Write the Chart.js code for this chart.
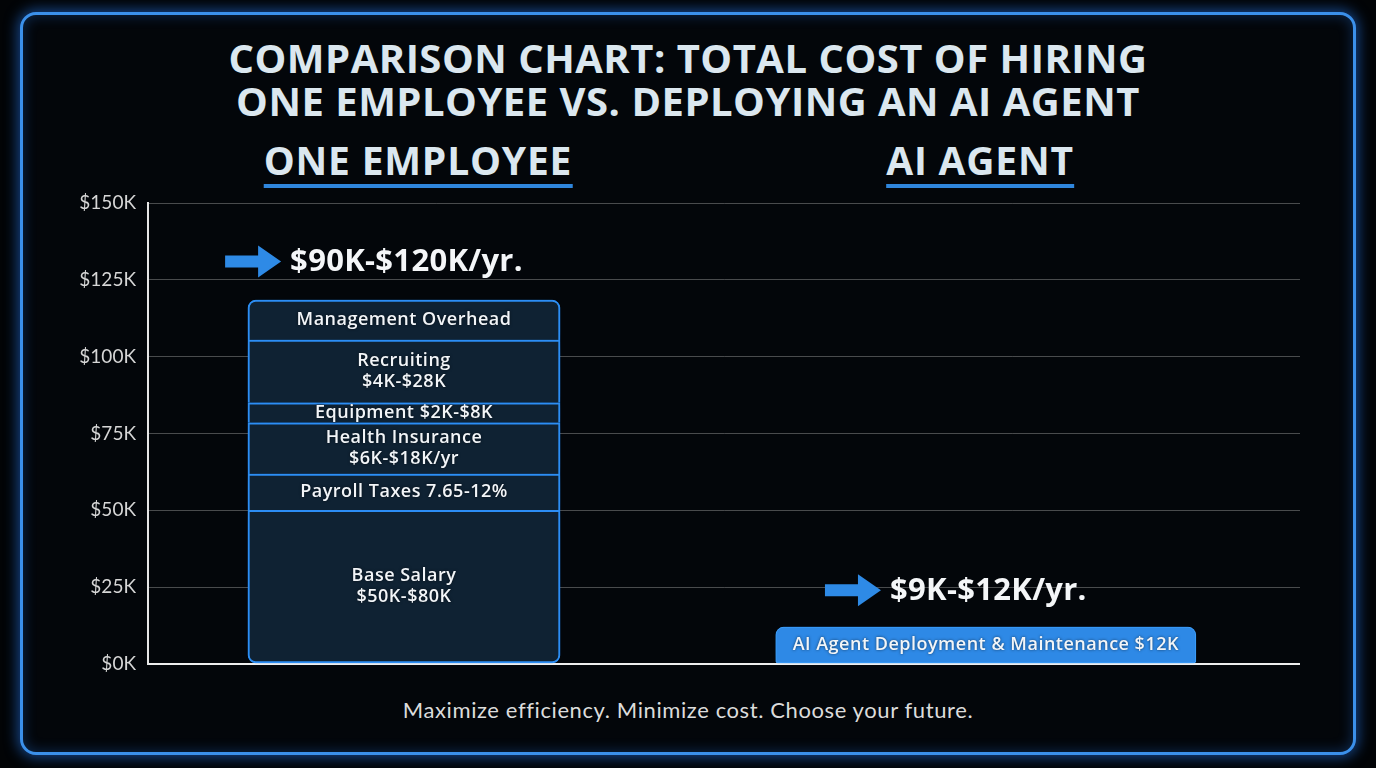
<!DOCTYPE html>
<html><head><meta charset="utf-8">
<script src="https://cdn.jsdelivr.net/npm/chart.js@4.4.0/dist/chart.umd.min.js"></script>
<style>
html,body{margin:0;padding:0;background:#020406;width:1376px;height:768px;overflow:hidden;}
#frame{position:absolute;left:20px;top:12px;width:1330px;height:737px;border:3px solid #3b90ea;border-radius:16px;background:#03060a;box-shadow:0 0 14px 2px rgba(40,130,255,0.55), inset 0 0 14px rgba(40,130,255,0.30);}
.title{position:absolute;left:0;width:1376px;top:36px;text-align:center;font-family:"Open Sans",sans-serif;font-weight:700;font-size:40px;line-height:43px;color:#dbe7ef;letter-spacing:0.5px;}
.hdr{position:absolute;top:138px;transform:translateX(-50%);font-family:"Open Sans",sans-serif;font-weight:700;font-size:39px;line-height:44px;color:#dbe7ef;border-bottom:4px solid #2f86dd;padding-bottom:2px;white-space:nowrap;letter-spacing:0.8px;}
.foot{position:absolute;left:0;width:1376px;top:696px;text-align:center;font-family:"Lato",sans-serif;font-weight:400;font-size:22px;color:#dcdcdc;letter-spacing:0.6px;}
canvas{position:absolute;left:0;top:0;}
</style></head>
<body>
<div id="frame"></div>
<div class="title">COMPARISON CHART: TOTAL COST OF HIRING<br>ONE EMPLOYEE VS. DEPLOYING AN AI AGENT</div>
<div class="hdr" id="h0" style="left:418px">ONE EMPLOYEE</div>
<div class="hdr" id="h1" style="left:980px">AI AGENT</div>
<div class="foot">Maximize efficiency. Minimize cost. Choose your future.</div>
<canvas id="c" width="1376" height="768"></canvas>
<script>
const categories = ['One Employee', 'AI Agent'];
const employeeSegments = ['Base Salary','Payroll Taxes','Health Insurance','Equipment','Recruiting','Management Overhead'];
const employeeValues = [50, 11.8, 16.7, 6.5, 20.4, 13.0];
const employeeLabels = [['Base Salary','$50K-$80K'],['Payroll Taxes 7.65-12%'],['Health Insurance','$6K-$18K/yr'],['Equipment $2K-$8K'],['Recruiting','$4K-$28K'],['Management Overhead']];
const aiSegments = ['AI Agent Deployment & Maintenance'];
const aiValues = [12];
const aiLabels = [['AI Agent Deployment & Maintenance $12K']];
const totalLabels = ['$90K-$120K/yr.', '$9K-$12K/yr.'];
const totalMarkerValues = [131, 24];
const yTicks = [0,25,50,75,100,125,150];
const yTickLabels = ['$0K','$25K','$50K','$75K','$100K','$125K','$150K'];

const datasets = [];
employeeValues.forEach((v,i)=>{
  const last = i===employeeValues.length-1, first = i===0;
  datasets.push({
    label: employeeSegments[i],
    data: [{x:0, y:v}],
    segLabel: employeeLabels[i],
    backgroundColor: '#0f2233',
    borderColor: '#2f8ff0',
    borderWidth: first ? 2 : {top:2,left:2,right:2,bottom:0},
    borderSkipped: false,
    borderRadius: first ? {topLeft:0,topRight:0,bottomLeft:8,bottomRight:8} : (last ? {topLeft:8,topRight:8,bottomLeft:0,bottomRight:0} : 0),
    barThickness: 312,
    glow: 'rgba(40,140,255,0.75)'
  });
});
aiValues.forEach((v,i)=>{
  datasets.push({
    label: aiSegments[i],
    data: [{x:1, y:v}],
    segLabel: aiLabels[i],
    backgroundColor: '#2e89e6',
    borderColor: '#4aa2f5',
    borderWidth: 1,
    borderSkipped: false,
    borderRadius: {topLeft:8,topRight:8,bottomLeft:2,bottomRight:2},
    barThickness: 420,
    glow: 'rgba(40,150,255,0.95)'
  });
});

const glowPlugin = {
  id:'glow',
  beforeDatasetDraw(chart,args){
    const ctx=chart.ctx; ctx.save();
    ctx.shadowColor = args.meta._dataset.glow || 'transparent';
    ctx.shadowBlur = 16;
  },
  afterDatasetDraw(chart){ chart.ctx.restore(); }
};

const labelPlugin = {
  id:'seglabels',
  afterDatasetsDraw(chart){
    const ctx=chart.ctx;
    ctx.save();
    ctx.textAlign='center'; ctx.textBaseline='middle';
    chart.data.datasets.forEach((ds,di)=>{
      const meta=chart.getDatasetMeta(di);
      meta.data.forEach(el=>{
        const cy=(el.y+el.base)/2;
        const lines=ds.segLabel; const lh=21;
        ctx.font='600 18px "Open Sans", sans-serif';
        ctx.letterSpacing='0.5px';
        ctx.fillStyle='#f2f5f8';
        ctx.shadowColor='rgba(0,0,0,0.6)'; ctx.shadowBlur=3;
        lines.forEach((t,k)=>{
          ctx.fillText(t, el.x, cy + (k-(lines.length-1)/2)*lh);
        });
      });
    });
    const xs=chart.scales.x, ys=chart.scales.y;
    totalLabels.forEach((t,i)=>{
      const cx=xs.getPixelForValue(i)-30;
      const cy=ys.getPixelForValue(totalMarkerValues[i]);
      ctx.font='700 31px "Open Sans", sans-serif';
      ctx.letterSpacing='0.3px';
      ctx.shadowBlur=0;
      const tw=ctx.measureText(t).width;
      const aw=56, gap=9, total=aw+gap+tw;
      const x0=cx-total/2;
      ctx.fillStyle='#2e8ae6';
      ctx.beginPath();
      ctx.moveTo(x0, cy-6); ctx.lineTo(x0+33, cy-6); ctx.lineTo(x0+33, cy-16);
      ctx.lineTo(x0+aw, cy); ctx.lineTo(x0+33, cy+16); ctx.lineTo(x0+33, cy+6);
      ctx.lineTo(x0, cy+6); ctx.closePath(); ctx.fill();
      ctx.fillStyle='#f4f6f8'; ctx.textAlign='left';
      ctx.fillText(t, x0+aw+gap, cy+1);
      ctx.textAlign='center';
    });
    ctx.restore();
  }
};

new Chart(document.getElementById('c'), {
  type:'bar',
  data:{ labels: categories, datasets },
  options:{
    responsive:false, animation:false, devicePixelRatio:1,
    layout:{ padding:{ left:0, right:76, top:203, bottom:104 } },
    plugins:{ legend:{display:false}, tooltip:{enabled:false}, title:{display:false} },
    scales:{
      x:{ type:'linear', display:false, stacked:true, offset:false, min:-0.44, max:1.54 },
      y:{
        stacked:true, min:0, max:150,
        afterBuildTicks(s){ s.ticks = yTicks.map(v=>({value:v})); },
        afterFit(s){ s.width = 148; },
        ticks:{ callback:(v,i)=>yTickLabels[i], color:'#d6d6d6', font:{family:'Lato', size:19}, padding:12 },
        grid:{ drawTicks:false,
          color:c=> c.tick && c.tick.value===0 ? '#eeeeee' : 'rgba(160,160,160,0.45)',
          lineWidth:c=> c.tick && c.tick.value===0 ? 2 : 1 },
        border:{ display:true, color:'#e6e6e6', width:2 }
      }
    }
  },
  plugins:[glowPlugin, labelPlugin]
});
</script>
</body></html>
